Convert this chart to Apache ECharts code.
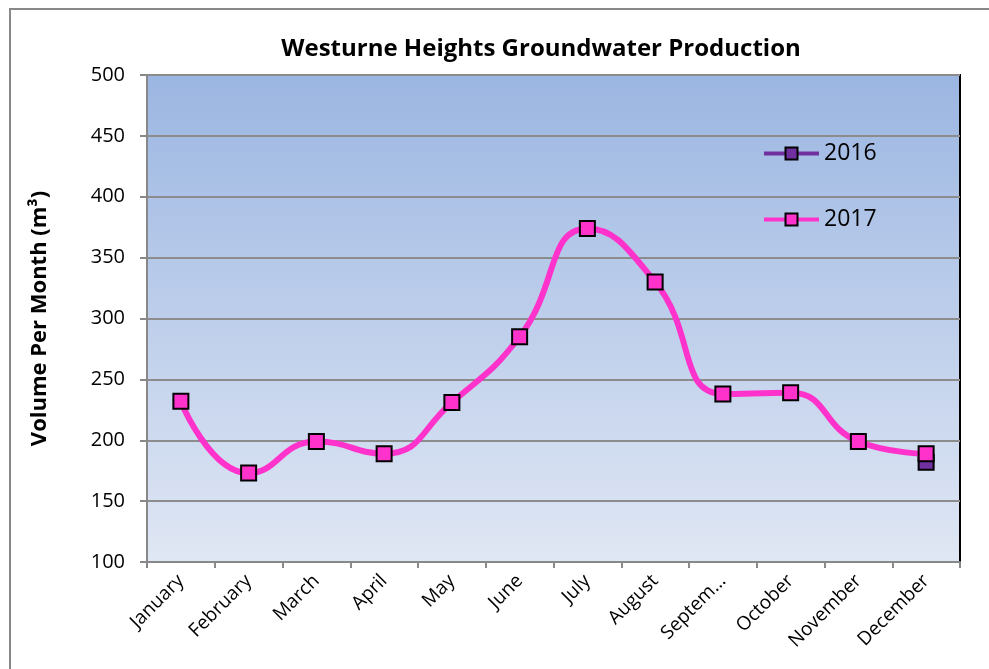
<!DOCTYPE html>
<html>
<head>
<meta charset="utf-8">
<script src="https://cdn.jsdelivr.net/npm/echarts@6/dist/echarts.min.js"></script>
<style>
html,body{margin:0;padding:0;background:#fff;}
#c{width:989px;height:669px;}
</style>
</head>
<body>
<div id="c"></div>
<script>
var categories = ['January','February','March','April','May','June','July','August','September','October','November','December'];
var values2016 = [null,null,null,null,null,null,null,null,null,null,null,182];
var values2017 = [232,173,199,189,231,285,374,330,238,239,199,189];
var yTicks = {min:100, max:500, interval:50};

var chart = echarts.init(document.getElementById('c'));
var font = '"Open Sans", "Noto Sans", sans-serif';
chart.setOption({
  animation:false,
  backgroundColor:'#ffffff',
  title:{
    text:'Westurne Heights Groundwater Production',
    left:536, top:32, textAlign:'center',
    textStyle:{fontFamily:font, fontSize:24, fontWeight:'bold', color:'#000'}
  },
  graphic:[{
    type:'rect', shape:{x:10,y:9,width:1100,height:800},
    style:{fill:null, stroke:'#888888', lineWidth:2}, silent:true
  }],
  legend:{
    orient:'vertical', left:757, top:137,
    itemWidth:55, itemHeight:15, itemGap:43,
    lineStyle:{width:4},
    textStyle:{fontFamily:font, fontSize:23, color:'#000'},
    data:['2016','2017']
  },
  grid:{
    left:147, right:29, top:75, bottom:107,
    show:true, borderColor:'#000', borderWidth:2,
    backgroundColor:{type:'linear',x:0,y:0,x2:0,y2:1,colorStops:[{offset:0,color:'#9BB6E2'},{offset:1,color:'#E0E7F4'}]}
  },
  xAxis:{
    type:'category', data:categories, boundaryGap:true,
    axisLine:{lineStyle:{color:'#888',width:2}},
    axisTick:{show:true,length:6,lineStyle:{color:'#888',width:2}},
    axisLabel:{
      rotate:45, fontFamily:font, fontSize:19, color:'#000', margin:16, interval:0,
      formatter:function(v){return v.length>8 ? v.slice(0,6)+'…' : v;}
    }
  },
  yAxis:{
    type:'value', min:yTicks.min, max:yTicks.max, interval:yTicks.interval,
    name:'Volume Per Month (m³)', nameLocation:'middle', nameGap:96,
    nameTextStyle:{fontFamily:font, fontSize:22, fontWeight:'bold', color:'#000'},
    axisLine:{show:true,lineStyle:{color:'#888',width:2}},
    axisTick:{show:true,length:7,lineStyle:{color:'#888',width:2}},
    axisLabel:{fontFamily:font, fontSize:20, color:'#000', margin:22},
    splitLine:{show:true,lineStyle:{color:'#8c8c8c',width:2}}
  },
  series:[
    {name:'2016', type:'line', data:values2016, smooth:0.5, connectNulls:false,
      symbol:'rect', symbolSize:15,
      lineStyle:{color:'#7030A0',width:4},
      itemStyle:{color:'#7030A0',borderColor:'#000',borderWidth:2}, z:2},
    {name:'2017', type:'line', data:values2017, smooth:0.5,
      symbol:'rect', symbolSize:15,
      lineStyle:{color:'#FF33CC',width:6},
      itemStyle:{color:'#FF33CC',borderColor:'#000',borderWidth:2}, z:3}
  ]
});
</script>
</body>
</html>
